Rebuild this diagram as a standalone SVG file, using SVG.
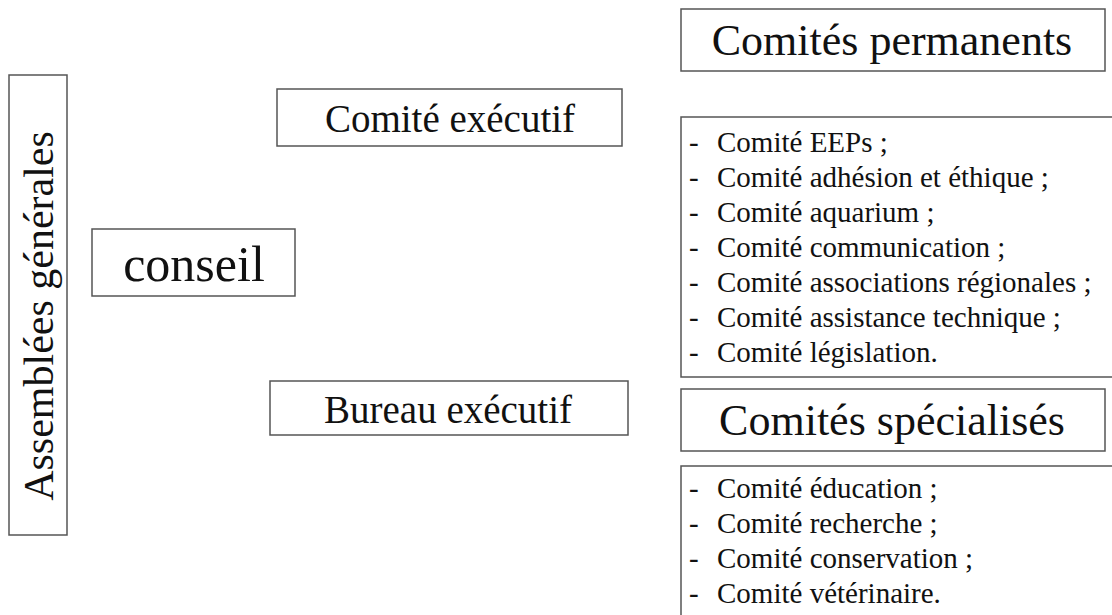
<svg xmlns="http://www.w3.org/2000/svg" width="1112" height="615" viewBox="0 0 1112 615">
<style>
.box{fill:#fff;stroke:#555;stroke-width:1.5}
.t39{font-size:39px;text-anchor:middle}
.t44{font-size:44px;text-anchor:middle}
.li{font-size:29px}
</style>
<rect width="1112" height="615" fill="#fff"/>
<g font-family="'Liberation Serif', 'Times New Roman', Tinos, serif" fill="#111">
<g id="assemblees">
<rect class="box" x="9" y="75" width="58" height="460"/>
<text transform="translate(53,316) rotate(-90)" font-size="42" text-anchor="middle">Assemblées générales</text>
</g>
<g id="conseil">
<rect class="box" x="92" y="229" width="203" height="67"/>
<text x="194" y="281" font-size="50" text-anchor="middle">conseil</text>
</g>
<g id="comite-executif">
<rect class="box" x="277" y="89" width="345" height="57"/>
<text class="t39" x="450" y="132">Comité exécutif</text>
</g>
<g id="bureau-executif">
<rect class="box" x="270" y="381" width="358" height="54"/>
<text class="t39" x="448" y="423">Bureau exécutif</text>
</g>
<g id="comites-permanents">
<rect class="box" x="681" y="9" width="424" height="62"/>
<text class="t44" x="892" y="55">Comités permanents</text>
</g>
<g id="liste-permanents">
<rect class="box" x="681" y="117" width="440" height="260"/>
<text class="li" y="152"><tspan x="689">-</tspan><tspan x="717">Comité EEPs ;</tspan></text>
<text class="li" y="187"><tspan x="689">-</tspan><tspan x="717">Comité adhésion et éthique ;</tspan></text>
<text class="li" y="222"><tspan x="689">-</tspan><tspan x="717">Comité aquarium ;</tspan></text>
<text class="li" y="257"><tspan x="689">-</tspan><tspan x="717">Comité communication ;</tspan></text>
<text class="li" y="292"><tspan x="689">-</tspan><tspan x="717">Comité associations régionales ;</tspan></text>
<text class="li" y="327"><tspan x="689">-</tspan><tspan x="717">Comité assistance technique ;</tspan></text>
<text class="li" y="362"><tspan x="689">-</tspan><tspan x="717">Comité législation.</tspan></text>
</g>
<g id="comites-specialises">
<rect class="box" x="681" y="389" width="424" height="62"/>
<text class="t44" x="892" y="435">Comités spécialisés</text>
</g>
<g id="liste-specialises">
<rect class="box" x="681" y="466" width="440" height="160"/>
<text class="li" y="498"><tspan x="689">-</tspan><tspan x="717">Comité éducation ;</tspan></text>
<text class="li" y="533"><tspan x="689">-</tspan><tspan x="717">Comité recherche ;</tspan></text>
<text class="li" y="568"><tspan x="689">-</tspan><tspan x="717">Comité conservation ;</tspan></text>
<text class="li" y="603"><tspan x="689">-</tspan><tspan x="717">Comité vétérinaire.</tspan></text>
</g>
</g>
<g id="connectors"/>
</svg>
